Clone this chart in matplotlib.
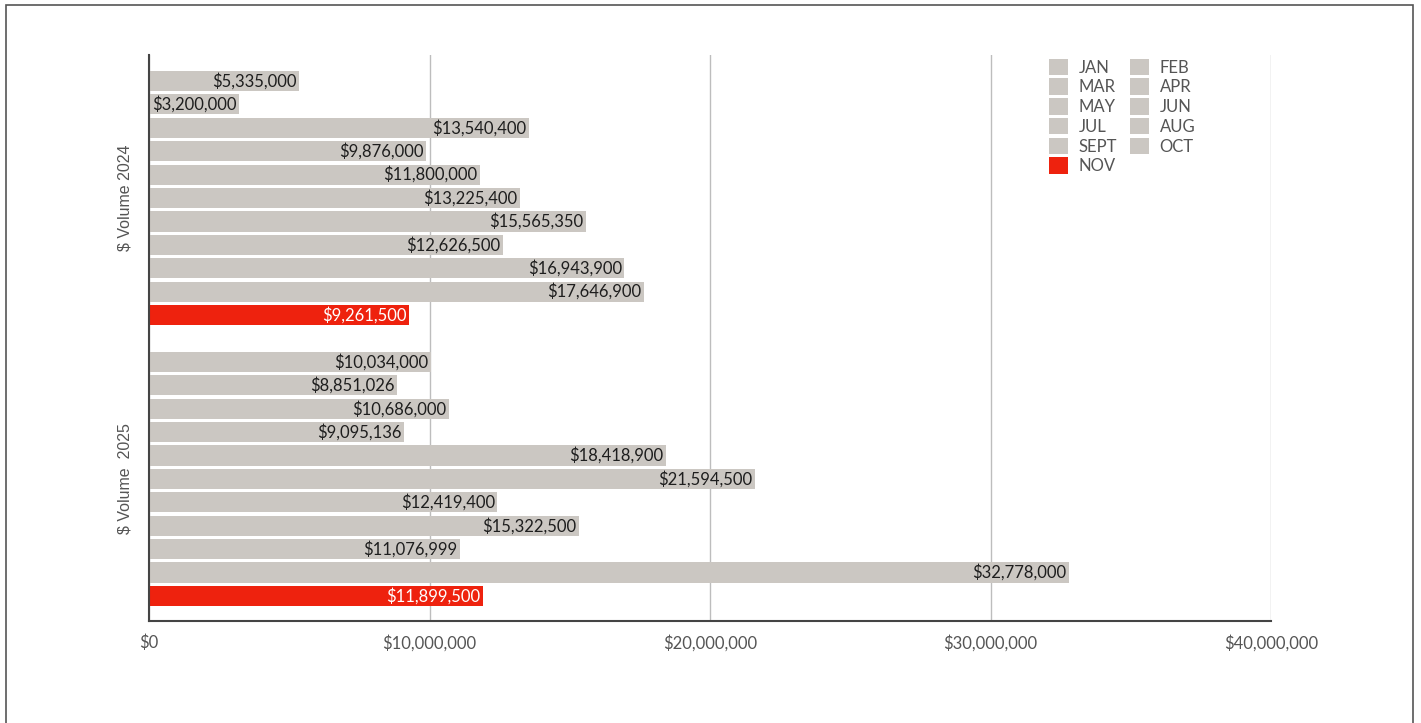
import matplotlib.pyplot as plt
from matplotlib.patches import Rectangle
from matplotlib.ticker import FuncFormatter

plt.rcParams['font.family'] = ['Lato', 'DejaVu Sans']

months = ["JAN", "FEB", "MAR", "APR", "MAY", "JUN", "JUL", "AUG", "SEPT", "OCT", "NOV"]
years = ["$ Volume 2024", "$ Volume  2025"]
vol_2024 = [5335000, 3200000, 13540400, 9876000, 11800000, 13225400,
            15565350, 12626500, 16943900, 17646900, 9261500]
vol_2025 = [10034000, 8851026, 10686000, 9095136, 18418900, 21594500,
            12419400, 15322500, 11076999, 32778000, 11899500]
x_ticks = [0, 10000000, 20000000, 30000000, 40000000]

GREY = "#cbc7c2"
RED = "#ee220e"

fig = plt.figure(figsize=(14.21, 7.23), dpi=100)
ax = fig.add_axes([0.1049, 0.1411, 0.7896, 0.7828])

# outer frame
fig.patches.append(Rectangle((0.0042, -0.05), 0.9902, 1.043, transform=fig.transFigure,
                             fill=False, edgecolor="#555555", linewidth=1.2))

n = len(months)
group_start = [0, n + 1]
bars = {}
for i, m in enumerate(months):
    color = RED if m == "NOV" else GREY
    vals = [vol_2024[i], vol_2025[i]]
    pos = [g + i for g in group_start]
    b = ax.barh(pos, vals, height=0.86, color=color, label=m, zorder=2)
    bars[m] = b
    txt_color = "white" if m == "NOV" else "#1e1e1e"
    for p, v in zip(pos, vals):
        ax.text(v - 90000, p, f"${v:,.0f}", ha="right", va="center",
                fontsize=12, color=txt_color, zorder=3)

ax.set_xlim(0, 40000000)
ax.set_ylim(2 * n + 1.07, -1.11)
ax.set_xticks(x_ticks)
ax.xaxis.set_major_formatter(FuncFormatter(lambda v, _: f"${v:,.0f}"))
ax.set_yticks([g + (n - 1) / 2 for g in group_start])
ax.set_yticklabels(years, rotation=90, va="center")
ax.tick_params(axis="both", length=0, colors="#555555")
ax.tick_params(axis="x", pad=10, labelsize=12)
ax.tick_params(axis="y", pad=12)
for lbl in ax.get_yticklabels():
    lbl.set_family(["Liberation Sans", "DejaVu Sans"])
    lbl.set_fontsize(11.5)

ax.grid(axis="x", color="#bdbdbd", linewidth=1, zorder=0)
ax.set_axisbelow(True)
for s in ["top", "right"]:
    ax.spines[s].set_visible(False)
for s in ["left", "bottom"]:
    ax.spines[s].set_color("#444444")
    ax.spines[s].set_linewidth(1.5)
    ax.spines[s].set_zorder(4)

# legend reads row by row: JAN FEB / MAR APR / ...
order = months[0::2] + months[1::2]
leg = ax.legend([bars[m] for m in order], order, ncol=2, loc="upper left",
                bbox_to_anchor=(0.789, 1.02), frameon=False, fontsize=12,
                handlelength=1.1, handleheight=1.15, handletextpad=0.65,
                columnspacing=0.8, labelspacing=0.17, labelcolor="#555555")

fig.savefig("out.png", dpi=100)
